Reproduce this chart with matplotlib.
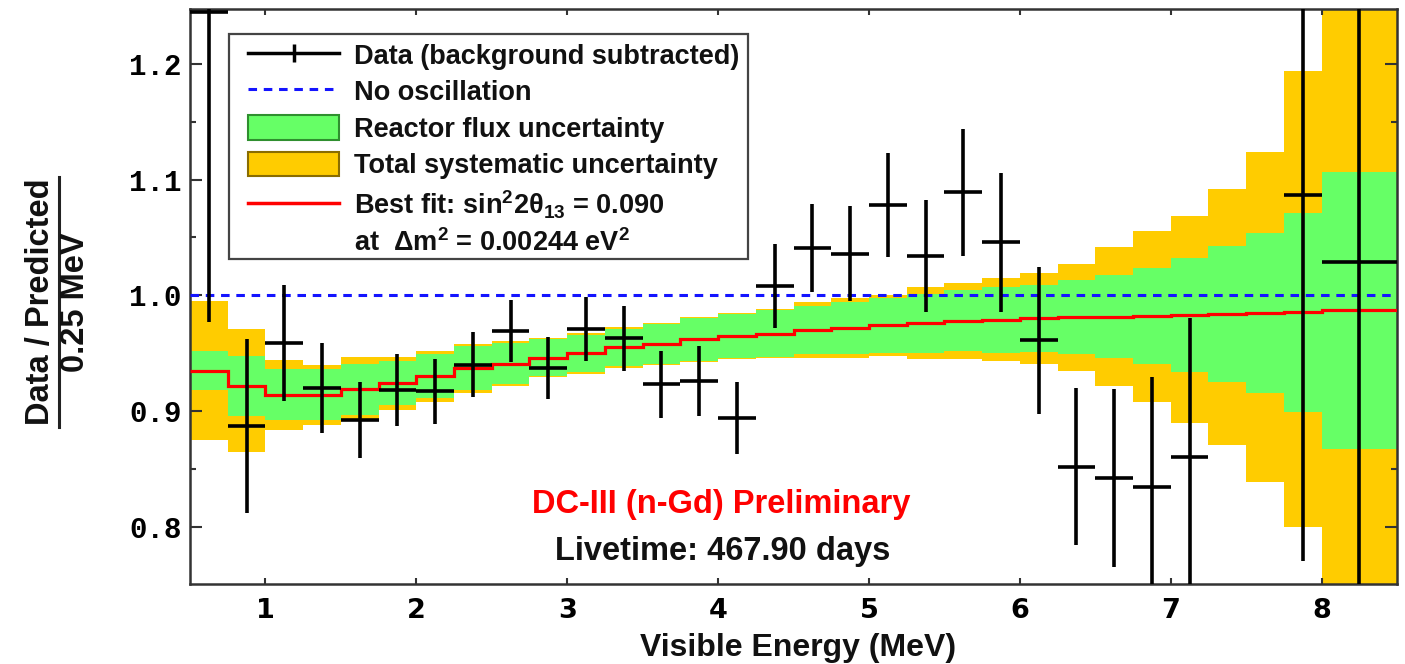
import numpy as np
import matplotlib
matplotlib.use("Agg")
import matplotlib.pyplot as plt
from matplotlib.lines import Line2D
from matplotlib.patches import Patch, Rectangle
from matplotlib.font_manager import FontProperties
from matplotlib.ticker import MultipleLocator, FormatStrFormatter

plt.rcParams["mathtext.fontset"] = "custom"
plt.rcParams["mathtext.rm"] = "Liberation Sans:bold"
plt.rcParams["mathtext.it"] = "Liberation Sans:bold"
plt.rcParams["mathtext.bf"] = "Liberation Sans:bold"
plt.rcParams["mathtext.sf"] = "Liberation Sans:bold"

# Visible-energy binning (MeV)
bin_edges = [0.5, 0.75, 1.0, 1.25, 1.5, 1.75, 2.0, 2.25, 2.5, 2.75, 3.0,
             3.25, 3.5, 3.75, 4.0, 4.25, 4.5, 4.75, 5.0, 5.25, 5.5, 5.75,
             6.0, 6.25, 6.5, 6.75, 7.0, 7.25, 7.5, 7.75, 8.0, 8.5]

# Best-fit prediction / no-oscillation prediction
best_fit = [0.935, 0.922, 0.914, 0.914, 0.919, 0.924, 0.930, 0.937, 0.941,
            0.946, 0.950, 0.955, 0.958, 0.962, 0.965, 0.967, 0.970, 0.972,
            0.974, 0.976, 0.978, 0.979, 0.980, 0.981, 0.9815, 0.982, 0.983,
            0.984, 0.985, 0.9855, 0.987]

# Half-width of the reactor flux uncertainty band
flux_unc = [0.017, 0.026, 0.022, 0.022, 0.022, 0.019, 0.019, 0.019, 0.018,
            0.016, 0.016, 0.016, 0.017, 0.0185, 0.019, 0.020, 0.021, 0.0225,
            0.024, 0.0255, 0.0265, 0.0285, 0.029, 0.032, 0.036, 0.0415,
            0.049, 0.059, 0.069, 0.086, 0.120]
# Total systematic uncertainty band: extent above / below the best fit
syst_up = [0.060, 0.049, 0.030, 0.026, 0.028, 0.023, 0.022, 0.021, 0.0195,
           0.017, 0.0176, 0.0175, 0.018, 0.0195, 0.020, 0.0215, 0.024, 0.026,
           0.026, 0.031, 0.033, 0.036, 0.039, 0.046, 0.060, 0.074, 0.086,
           0.108, 0.139, 0.208, 0.300]
syst_down = [0.060, 0.057, 0.030, 0.026, 0.028, 0.023, 0.022, 0.021, 0.0195,
             0.017, 0.0176, 0.0175, 0.018, 0.0195, 0.020, 0.0215, 0.024,
             0.026, 0.026, 0.031, 0.033, 0.036, 0.039, 0.046, 0.060, 0.074,
             0.0935, 0.113, 0.146, 0.186, 0.300]

# Background-subtracted data / prediction with statistical errors
data_ratio = [1.245, 0.887, 0.959, 0.920, 0.892, 0.918, 0.917, 0.940, 0.969,
              0.937, 0.971, 0.963, 0.923, 0.926, 0.894, 1.008, 1.041, 1.036,
              1.078, 1.034, 1.089, 1.046, 0.961, 0.852, 0.842, 0.834, 0.860,
              np.nan, np.nan, 1.087, 1.029]
data_err = [0.268, 0.075, 0.050, 0.039, 0.033, 0.031, 0.028, 0.028, 0.027,
            0.027, 0.028, 0.028, 0.029, 0.030, 0.0315, 0.036, 0.038, 0.041,
            0.045, 0.048, 0.055, 0.060, 0.0635, 0.068, 0.077, 0.095, 0.120,
            np.nan, np.nan, 0.317, 0.350]

edges = np.array(bin_edges)
lefts = edges[:-1]
widths = np.diff(edges)
centers = lefts + widths / 2
fit = np.array(best_fit)
flux = np.array(flux_unc)
s_up = np.array(syst_up)
s_dn = np.array(syst_down)

W, H = 1405, 664
fig = plt.figure(figsize=(W / 100, H / 100), dpi=100)
ax = fig.add_axes([190 / W, 1 - 584 / H, (1397 - 190) / W, (584 - 9) / H])

YELLOW = "#ffcc00"
GREEN = "#66ff66"
RED = "#ff0000"
BLUE = "#1414ff"

ax.bar(lefts, s_up + s_dn, bottom=fit - s_dn, width=widths, align="edge",
       color=YELLOW, linewidth=0, zorder=1)
ax.bar(lefts, 2 * flux, bottom=fit - flux, width=widths, align="edge",
       color=GREEN, linewidth=0, zorder=2)
ax.stairs(fit, edges, baseline=None, color=RED, linewidth=2.3, zorder=3)
ax.axhline(1.0, color=BLUE, linewidth=2.2, dashes=(2.8, 2.2), zorder=4)
ax.errorbar(centers, data_ratio, yerr=data_err, xerr=widths / 2, fmt="none",
            ecolor="black", elinewidth=2.6, capsize=0, zorder=5)

ax.set_xlim(0.5, 8.5)
ax.set_ylim(0.7505, 1.2475)

# Axes frame and ticks
for sp in ax.spines.values():
    sp.set_linewidth(1.8)
    sp.set_color("#333333")
ax.xaxis.set_major_locator(MultipleLocator(1))
ax.yaxis.set_major_locator(MultipleLocator(0.1))
ax.yaxis.set_minor_locator(MultipleLocator(0.05))
ax.yaxis.set_major_formatter(FormatStrFormatter("%.1f"))
ax.tick_params(axis="both", which="both", direction="in", top=True, right=True,
               color="#333333")
ax.tick_params(axis="y", which="major", length=8.5, width=1.5, pad=6)
ax.tick_params(axis="y", which="minor", length=4.5, width=1.5)
ax.tick_params(axis="x", which="major", length=4.5, width=1.5, pad=10)
for lab in ax.get_yticklabels():
    lab.set_fontproperties(FontProperties(family="Liberation Mono",
                                          weight="bold", size=21))
for lab in ax.get_xticklabels():
    lab.set_fontproperties(FontProperties(family="DejaVu Sans",
                                          weight="bold", size=19.5))

# Axis titles
fig.text(798 / W, 1 - 656 / H, "Visible Energy (MeV)", ha="center",
         va="baseline", fontsize=23, fontweight="bold",
         family="Liberation Sans", color="#111111")
fig.text(41 / W, 1 - 302 / H, "Data / Predicted", rotation=90, ha="center",
         va="center", fontsize=23.5, fontweight="bold",
         family="Liberation Sans", color="#111111")
fig.text(76 / W, 1 - 302 / H, "0.25 MeV", rotation=90, ha="center",
         va="center", fontsize=23.5, fontweight="bold",
         family="Liberation Sans", color="#111111")
fig.add_artist(Line2D([58.5 / W, 58.5 / W], [1 - 177 / H, 1 - 427 / H],
                      transform=fig.transFigure, color="#222222",
                      linewidth=2.2))

# Annotations
ax.text(4.02, 0.8123, "DC-III (n-Gd) Preliminary", color=RED, ha="center",
        va="baseline", fontsize=23.5, fontweight="bold",
        family="Liberation Sans", zorder=6)
ax.text(4.03, 0.7714, "Livetime: 467.90 days", color="#111111", ha="center",
        va="baseline", fontsize=23.5, fontweight="bold",
        family="Liberation Sans", zorder=6)

# Legend
frame = Rectangle((229 / W, 1 - 259 / H), (748 - 229) / W, (259 - 34) / H,
                  transform=fig.transFigure, facecolor="white",
                  edgecolor="#444444", linewidth=1.6, zorder=7, clip_on=False)
ax.add_artist(frame)

handles = [
    Line2D([], [], color="black", linewidth=2.5, marker="|", markersize=13,
           markeredgewidth=2.5),
    Line2D([], [], color=BLUE, linewidth=2.2, dashes=(2.8, 2.2)),
    Patch(facecolor=GREEN, edgecolor="#2f8f2f", linewidth=1.5),
    Patch(facecolor=YELLOW, edgecolor="#8a6d00", linewidth=1.5),
    Line2D([], [], color=RED, linewidth=2.5),
    Line2D([], [], color="none"),
]
labels = [
    "Data (background subtracted)",
    "No oscillation",
    "Reactor flux uncertainty",
    "Total systematic uncertainty",
    r"Best fit: sin$^2$2$\theta_{13}$ = 0.090",
    r"at  $\Delta$m$^2$ = 0.00244 eV$^2$",
]
leg = ax.legend(handles, labels, loc="upper left",
                bbox_to_anchor=(248 / W, 1 - 42 / H),
                bbox_transform=fig.transFigure, frameon=False, borderpad=0,
                borderaxespad=0, handlelength=3.36, handleheight=1.03,
                handletextpad=0.55, labelspacing=0.33,
                prop=FontProperties(family="Liberation Sans", weight="bold",
                                    size=19.5))
leg.set_zorder(8)
for t in leg.get_texts():
    t.set_color("#111111")

fig.savefig("out.png", dpi=100)
